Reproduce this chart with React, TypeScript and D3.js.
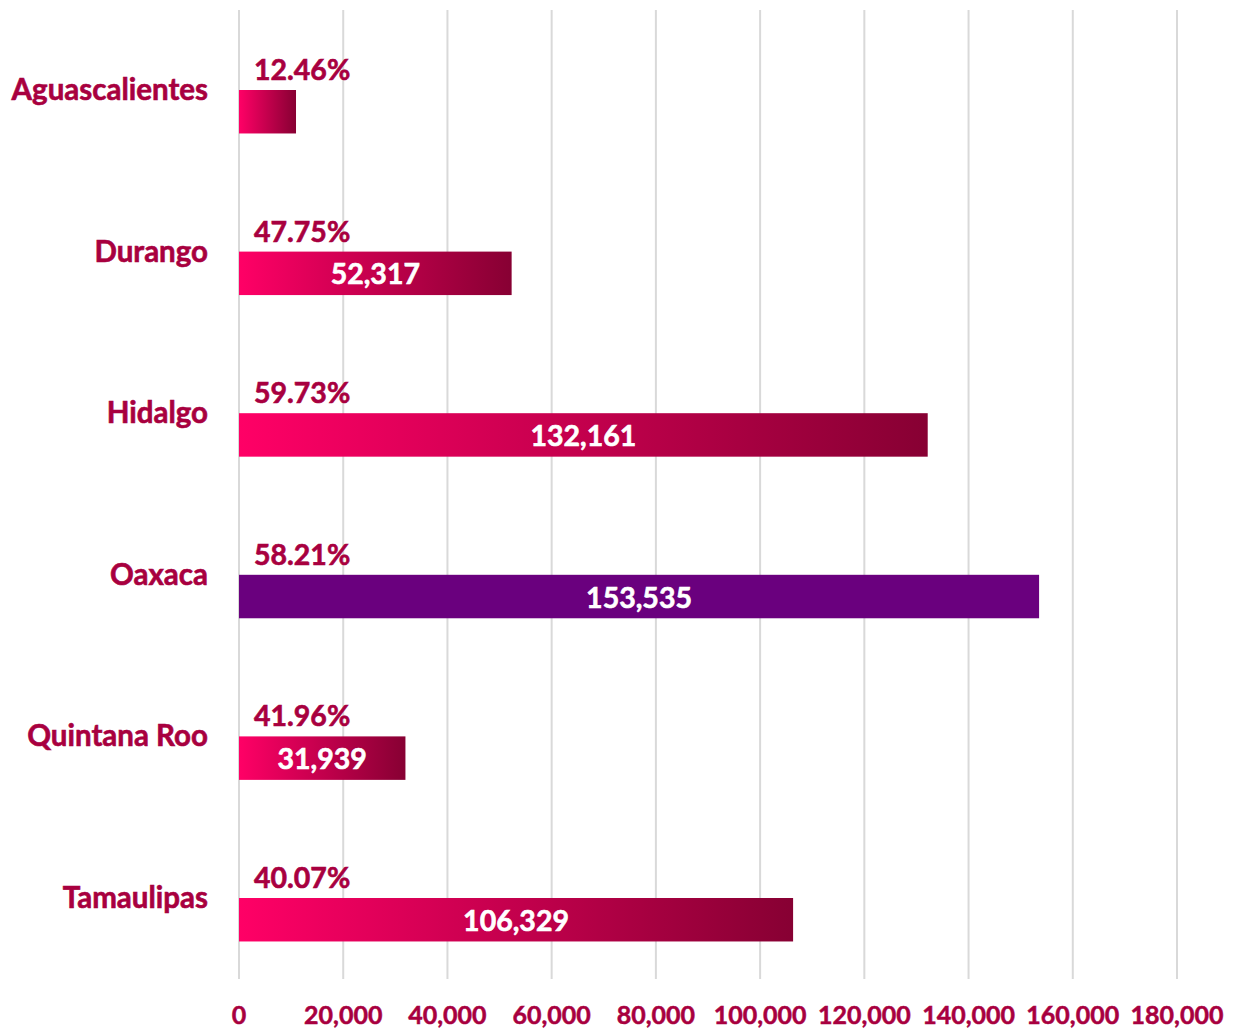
import { useEffect, useRef } from 'react';
import * as d3 from 'd3';

const states = ['Aguascalientes', 'Durango', 'Hidalgo', 'Oaxaca', 'Quintana Roo', 'Tamaulipas'];
const values = [10940, 52317, 132161, 153535, 31939, 106329];
const showValue = [false, true, true, true, true, true];
const percents = ['12.46%', '47.75%', '59.73%', '58.21%', '41.96%', '40.07%'];
const xTicks = [0, 20000, 40000, 60000, 80000, 100000, 120000, 140000, 160000, 180000];

const WIDTH = 1235;
const HEIGHT = 1028;
const FONT = 'Lato, "Open Sans", sans-serif';
const LABEL = '#A8003F';

export default function App() {
  const svgRef = useRef<SVGSVGElement | null>(null);

  useEffect(() => {
    if (!svgRef.current) return;
    const svg = d3.select(svgRef.current);
    svg.selectAll('*').remove();

    const margin = { top: 10, left: 239, right: 58, bottom: 49 };
    const innerW = WIDTH - margin.left - margin.right;
    const innerH = HEIGHT - margin.top - margin.bottom;

    const defs = svg.append('defs');
    const grad = defs.append('linearGradient')
      .attr('id', 'barGrad')
      .attr('x1', '0%').attr('x2', '100%').attr('y1', '0%').attr('y2', '0%');
    grad.append('stop').attr('offset', '0%').attr('stop-color', '#FF0066');
    grad.append('stop').attr('offset', '100%').attr('stop-color', '#870033');

    const g = svg.append('g').attr('transform', `translate(${margin.left},${margin.top})`);

    const x = d3.scaleLinear().domain([0, 180000]).range([0, innerW]);
    // step ~161.6px, bar ~43.5px
    const y = d3.scaleBand().domain(states).range([80, 80 + 161.6 * (states.length - 0.731)]).paddingInner(0.731).paddingOuter(0);

    // Grid
    g.selectAll('line.grid')
      .data(xTicks)
      .enter()
      .append('line')
      .attr('x1', d => x(d)).attr('x2', d => x(d))
      .attr('y1', 0).attr('y2', innerH)
      .attr('stroke', '#D9D9D9')
      .attr('stroke-width', 2);

    // Axis labels
    g.selectAll('text.tick')
      .data(xTicks)
      .enter()
      .append('text')
      .attr('x', d => x(d))
      .attr('y', innerH + 45)
      .attr('text-anchor', 'middle')
      .attr('fill', LABEL)
      .attr('stroke', LABEL)
      .attr('stroke-width', 0.5)
      .attr('font-family', FONT)
      .attr('font-weight', 700)
      .attr('font-size', '25px')
      .text(d => d3.format(',')(d));

    states.forEach((s, i) => {
      const by = y(s)!;
      const bh = y.bandwidth();
      const fill = s === 'Oaxaca' ? '#6A007E' : 'url(#barGrad)';
      g.append('rect')
        .attr('x', 0).attr('y', by)
        .attr('width', x(values[i]))
        .attr('height', bh)
        .attr('fill', fill);

      g.append('text')
        .attr('x', -31)
        .attr('y', by + 10)
        .attr('text-anchor', 'end')
        .attr('fill', LABEL)
        .attr('stroke', LABEL)
        .attr('stroke-width', 0.6)
        .attr('font-family', FONT)
        .attr('font-weight', 700)
        .attr('font-size', '29.5px')
        .text(s);

      g.append('text')
        .attr('x', 15)
        .attr('y', by - 10)
        .attr('fill', LABEL)
        .attr('stroke', LABEL)
        .attr('stroke-width', 0.6)
        .attr('font-family', FONT)
        .attr('font-weight', 700)
        .attr('font-size', '28.5px')
        .text(percents[i]);

      if (showValue[i]) {
        g.append('text')
          .attr('x', x(values[i]) / 2)
          .attr('y', by + bh / 2 + 11)
          .attr('text-anchor', 'middle')
          .attr('fill', '#FFFFFF')
          .attr('stroke', '#FFFFFF')
          .attr('stroke-width', 0.6)
          .attr('font-family', FONT)
          .attr('font-weight', 700)
          .attr('font-size', '28.5px')
          .text(d3.format(',')(values[i]));
      }
    });
  }, []);

  return (
    <div style={{ position: 'fixed', left: 0, top: 0, width: WIDTH, height: HEIGHT, overflow: 'hidden' }}>
      <svg ref={svgRef} width={WIDTH} height={HEIGHT} style={{ display: 'block', background: '#fff' }} />
    </div>
  );
}
